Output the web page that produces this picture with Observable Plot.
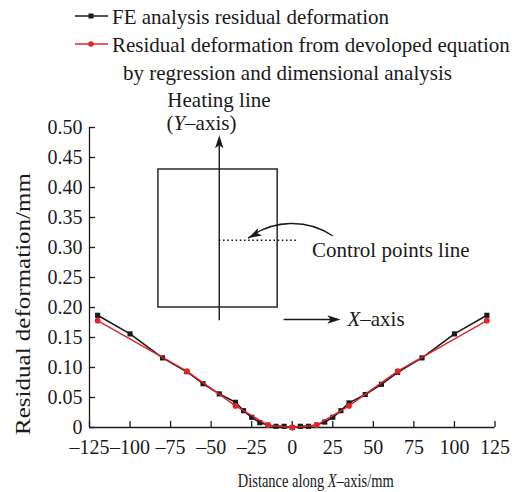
<!DOCTYPE html>
<html><head><meta charset="utf-8">
<script src="https://cdn.jsdelivr.net/npm/d3@7"></script>
<script src="https://cdn.jsdelivr.net/npm/@observablehq/plot@0.6"></script>
<style>
body{margin:0;background:#fff;}
#wrap{width:514px;height:492px;position:relative;overflow:hidden;background:#fff;font-family:"Liberation Serif",serif;}
svg{display:block}
</style></head><body><div id="wrap"></div>
<script>
// ---- data ----
const xTicks = [-125, -100, -75, -50, -25, 0, 25, 50, 75, 100, 125];
const yTicks = [0, 0.05, 0.10, 0.15, 0.20, 0.25, 0.30, 0.35, 0.40, 0.45, 0.50];
const feX = [-120,-100,-80,-65,-55,-45,-35,-30,-25,-20,-15,-10,-5,0,5,10,15,20,25,30,35,45,55,65,80,100,120];
const feY = [0.187,0.156,0.116,0.093,0.073,0.056,0.042,0.028,0.017,0.008,0.004,0.002,0.002,0,0.002,0.002,0.004,0.009,0.017,0.028,0.041,0.055,0.072,0.092,0.116,0.156,0.187];
const regX = [-120,-65,-35,-15,0,15,35,65,120];
const regY = [0.178,0.094,0.036,0.004,0,0.004,0.036,0.094,0.178];
const legendLabels = ["FE analysis residual deformation", "Residual deformation from devoloped equation", "by regression and dimensional analysis"];
const xLabel = "Distance along X–axis/mm";
const yLabel = "Residual deformation/mm";
// inset sketch (data units)
const boxX = [-82.5, -9];
const boxY = [0.20, 0.43];
const heatX = -45, heatY = [0.178, 0.487];
const ctrlY = 0.312, ctrlX = [-45, 3];
const bendFrom = [24.6, 0.320], bendTo = [-26.9, 0.316];
const xArrowY = 0.18, xArrowX = [-5, 29.7];
const notes = [
  {x: -77, y: 0.545, t: "Heating line"},
  {x: -77.6, y: 0.507, t: "(Y–axis)"},
  {x: 12.2, y: 0.295, t: "Control points line"},
  {x: 34, y: 0.18, t: "X–axis"}
];

const fe = feX.map((x, i) => ({x, y: feY[i]}));
const reg = regX.map((x, i) => ({x, y: regY[i]}));
const RED = "#e3232a", INK = "#1a1a1a";
const FONT = "Liberation Serif";

const dart = {draw(ctx) { ctx.moveTo(0, 0); ctx.lineTo(4.2, 13); ctx.lineTo(0, 10); ctx.lineTo(-4.2, 13); ctx.closePath(); }};

const wrap = document.getElementById("wrap");

// ---- legend (above the SVG) ----
const leg = d3.create("svg").attr("width", 514).attr("height", 100).style("font-family", FONT).style("font-size", "21px");
const rows = [{y: 16, c: INK, sq: true}, {y: 44, c: RED, sq: false}];
rows.forEach((r, i) => {
  leg.append("line").attr("x1", 75).attr("x2", 108).attr("y1", r.y).attr("y2", r.y).attr("stroke", r.c).attr("stroke-width", 1.5);
  if (r.sq) leg.append("rect").attr("x", 88.5).attr("y", r.y - 2.5).attr("width", 5).attr("height", 5).attr("fill", r.c);
  else leg.append("circle").attr("cx", 91).attr("cy", r.y).attr("r", 2.8).attr("fill", r.c);
  leg.append("text").attr("x", 112).attr("y", r.y + 8).attr("fill", INK).text(legendLabels[i]);
});
leg.append("text").attr("x", 123).attr("y", 80).attr("fill", INK).text(legendLabels[2]);
wrap.appendChild(leg.node());

// ---- chart ----
const chart = Plot.plot({
  width: 514, height: 392,
  marginTop: 27, marginBottom: 65, marginLeft: 89, marginRight: 19.5,
  style: {fontFamily: FONT, fontSize: "20px", color: INK, background: "#fff", overflow: "visible"},
  x: {domain: [-125, 125]},
  y: {domain: [0, 0.5]},
  marks: [
    Plot.axisX({ticks: xTicks, tickSize: -6, tickPadding: 18, strokeWidth: 1.3, label: null, fontSize: 20,
      tickFormat: d => d < 0 ? "–" + Math.abs(d) : String(d)}),
    Plot.axisY({ticks: yTicks, tickSize: -6, tickPadding: 13, strokeWidth: 1.3, label: null, fontSize: 20,
      tickFormat: d => d === 0 ? "0" : d.toFixed(2)}),
    Plot.ruleX([-125], {stroke: INK, strokeWidth: 1.3}),
    Plot.ruleY([0], {stroke: INK, strokeWidth: 1.3}),
    // inset sketch
    Plot.rect([0], {x1: boxX[0], x2: boxX[1], y1: boxY[0], y2: boxY[1], fill: "none", stroke: INK, strokeWidth: 1.4}),
    Plot.ruleX([heatX], {y1: heatY[0], y2: heatY[1] - 0.01, stroke: INK, strokeWidth: 1.4}),
    Plot.dot([0], {x: heatX, y: heatY[1], symbol: dart, fill: INK, stroke: "none", r: 4}),
    Plot.ruleY([ctrlY], {x1: ctrlX[0], x2: ctrlX[1], stroke: INK, strokeWidth: 1.6, strokeDasharray: "1.6,2.6"}),
    Plot.arrow([0], {x1: bendFrom[0], y1: bendFrom[1], x2: bendTo[0], y2: bendTo[1], bend: -35, headLength: 0, stroke: INK, strokeWidth: 1.4}),
    Plot.dot([0], {x: bendTo[0], y: bendTo[1], symbol: dart, rotate: -118, fill: INK, stroke: "none", r: 4}),
    Plot.ruleY([xArrowY], {x1: xArrowX[0], x2: xArrowX[1] - 5, stroke: INK, strokeWidth: 1.4}),
    Plot.dot([0], {x: xArrowX[1], y: xArrowY, symbol: dart, rotate: 90, fill: INK, stroke: "none", r: 4}),
    Plot.text(notes, {x: "x", y: "y", text: "t", textAnchor: "start", fill: INK, fontSize: 21}),
    // data
    Plot.line(fe, {x: "x", y: "y", stroke: INK, strokeWidth: 1.6}),
    Plot.dot(fe, {x: "x", y: "y", symbol: "square", fill: INK, stroke: "none", r: 2.9}),
    Plot.line(reg, {x: "x", y: "y", stroke: RED, strokeWidth: 1.4}),
    Plot.dot(reg, {x: "x", y: "y", fill: RED, stroke: "none", r: 2.9}),
    // axis titles
    Plot.text([yLabel], {frameAnchor: "left", dx: -66, dy: 26.5, rotate: -90, textAnchor: "middle", lineAnchor: "middle", fill: INK, fontSize: 21}),
    Plot.text([xLabel], {frameAnchor: "bottom", dx: 23.5, dy: 53, textAnchor: "middle", lineAnchor: "middle", fill: INK, fontSize: 19})
  ]
});
wrap.appendChild(chart);

// post-processing: italic axis letters & fit label lengths by horizontal scaling
function italicize(el, letter) {
  const s = el.textContent;
  const i = s.indexOf(letter);
  if (i < 0) return;
  el.textContent = "";
  [s.slice(0, i), letter, s.slice(i + 1)].forEach((p, k) => {
    const ts = document.createElementNS("http://www.w3.org/2000/svg", "tspan");
    ts.textContent = p;
    if (k === 1) ts.setAttribute("font-style", "italic");
    el.appendChild(ts);
  });
}
function fitLength(el, target) {
  const len = el.getComputedTextLength();
  if (!len) return;
  const k = target / len;
  const tr = el.getAttribute("transform") || "";
  el.setAttribute("transform", tr + ` scale(${k.toFixed(3)},1)`);
}
chart.querySelectorAll("text").forEach(el => {
  const s = el.textContent;
  if (s === xLabel) { italicize(el, "X"); fitLength(el, 156); }
  else if (s === yLabel) { fitLength(el, 262); }
  else if (s === "X–axis") italicize(el, "X");
  else if (s === "(Y–axis)") italicize(el, "Y");
});
</script>
</body></html>
